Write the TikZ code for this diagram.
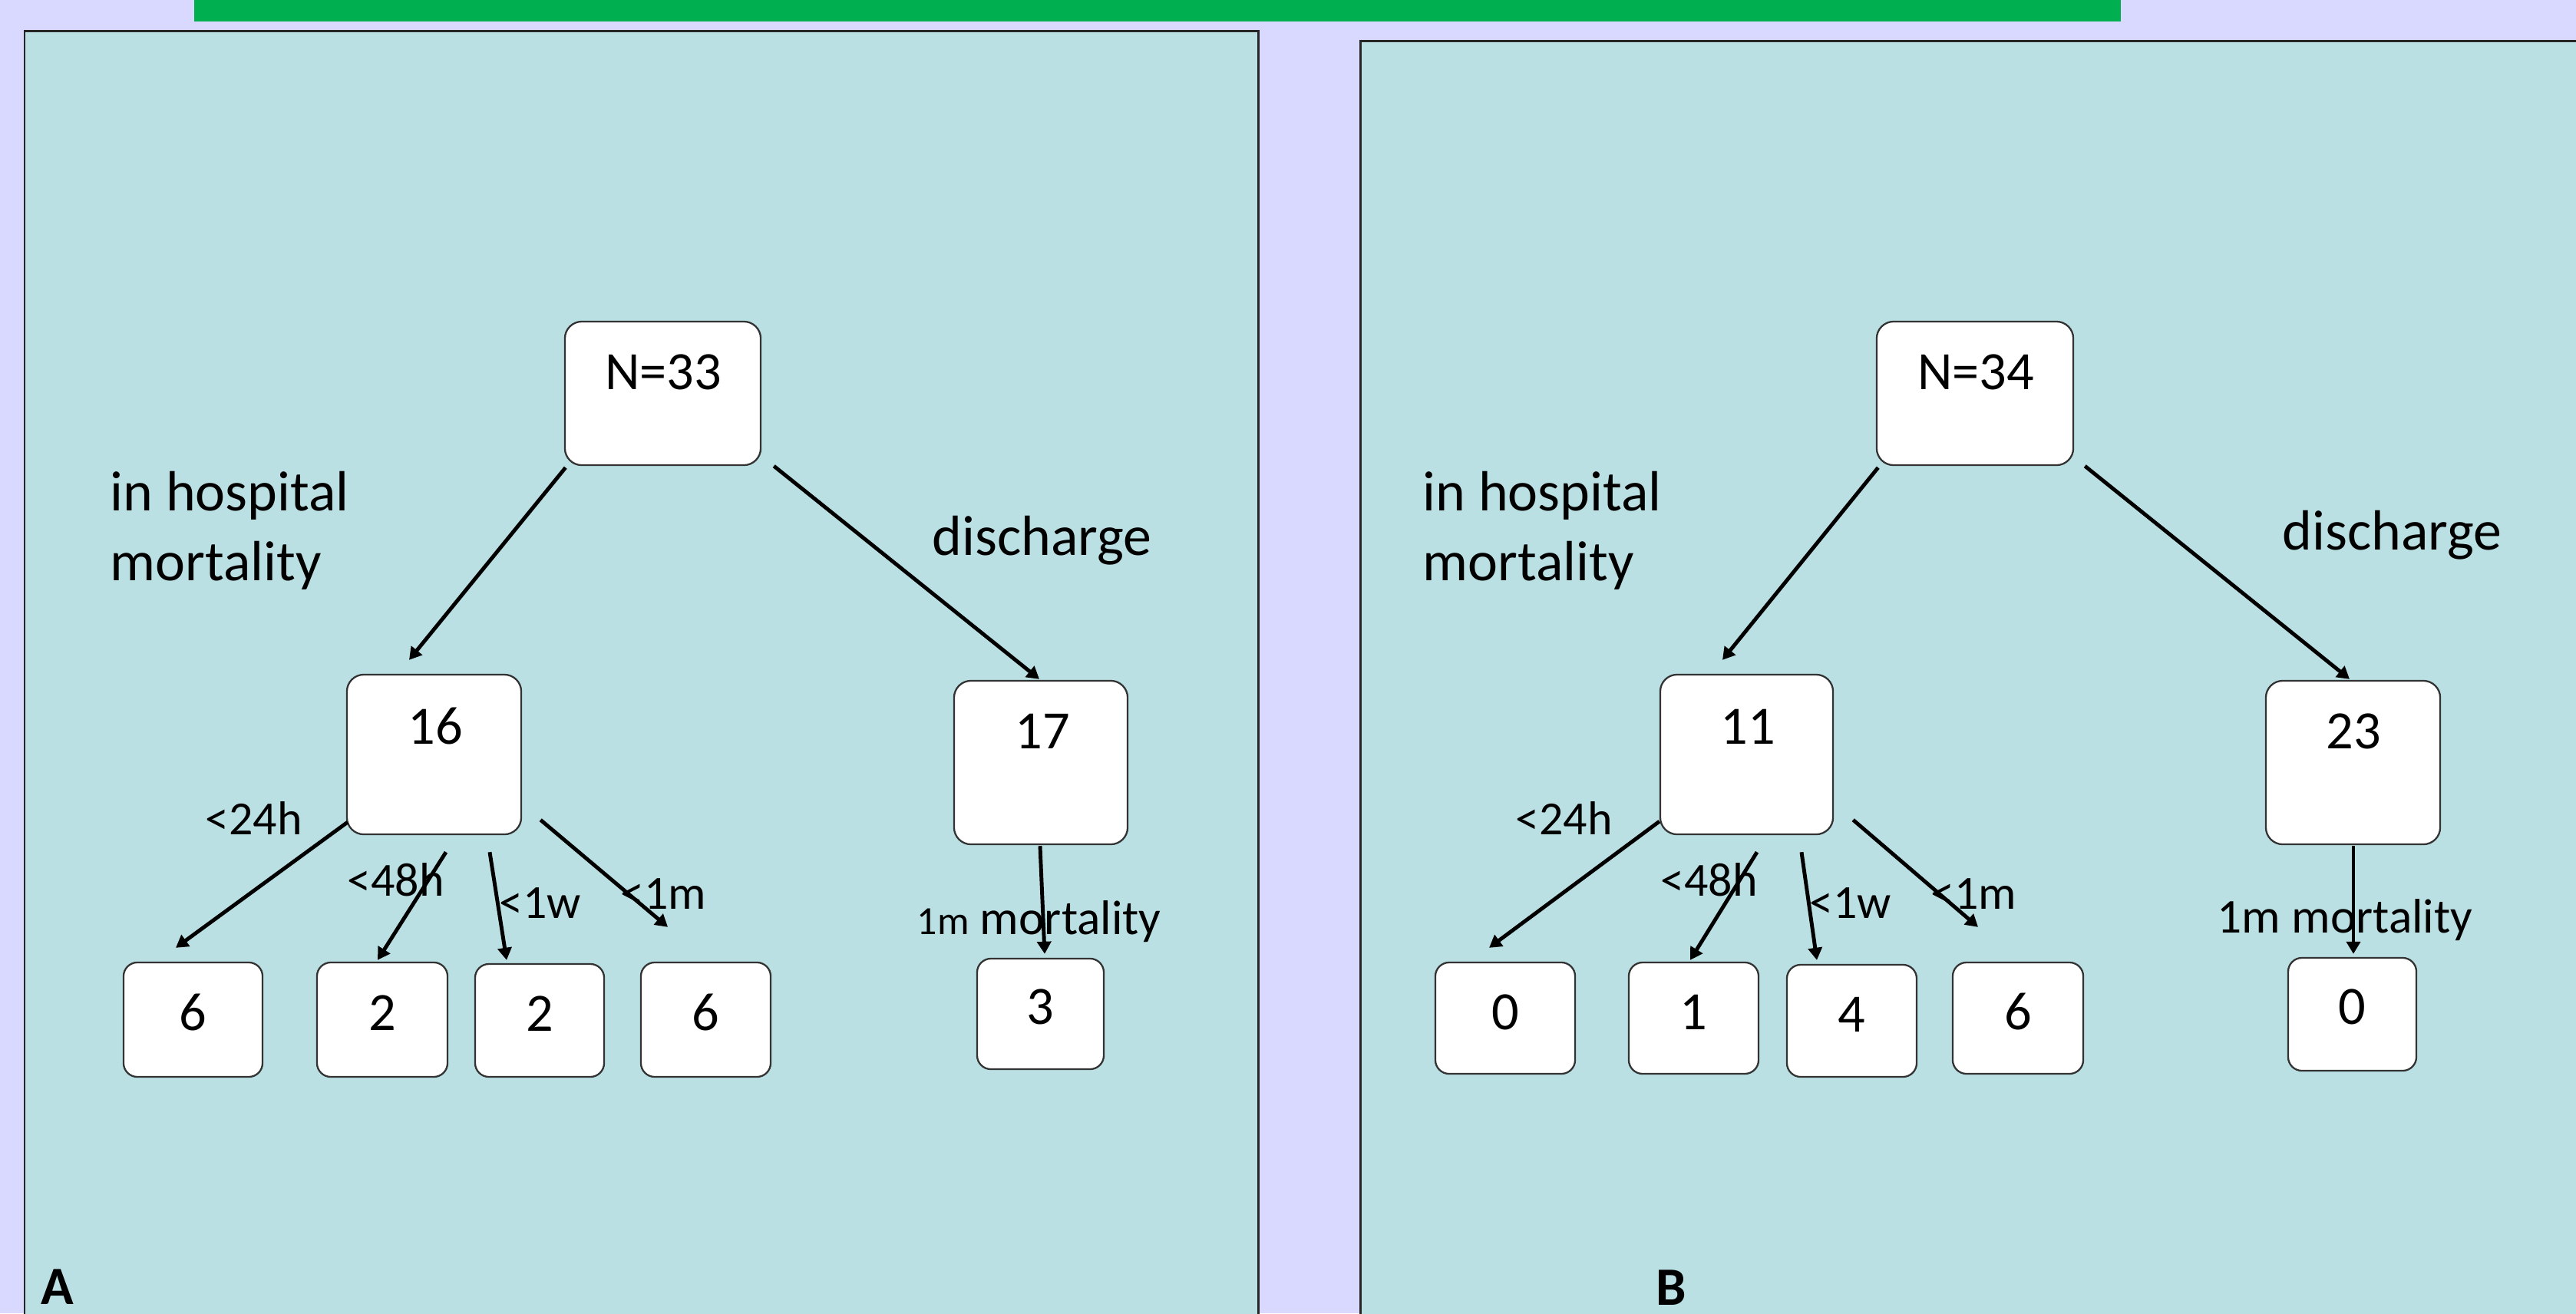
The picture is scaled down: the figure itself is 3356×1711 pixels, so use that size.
\documentclass[tikz,border=0pt]{standalone}
\usepackage{fontspec}
\setmainfont{Carlito}
\usetikzlibrary{arrows.meta,calc}
\definecolor{bgl}{HTML}{D9D9FF}
\definecolor{panelc}{HTML}{BBE0E3}
\definecolor{gbar}{HTML}{00AF50}
\begin{document}
\begin{tikzpicture}[x=0.01cm,y=-0.01cm,
  bigbox/.style={draw=black!80, line width=0.65pt, fill=white, rounded corners=0.22cm, inner sep=0pt},
  smallbox/.style={bigbox, rounded corners=0.18cm},
  numtxt/.style={anchor=base, inner sep=0pt, font=\fontsize{20}{24}\selectfont},
  lbl/.style={anchor=base west, inner sep=0pt, font=\fontsize{21}{25}\selectfont},
  elbl/.style={anchor=base west, inner sep=0pt, font=\fontsize{17.6}{21}\selectfont},
  mlbl/.style={anchor=base west, inner sep=0pt, font=\fontsize{18}{22}\selectfont},
  plbl/.style={anchor=base west, inner sep=0pt, font=\fontsize{20}{24}\selectfont\bfseries},
  arr/.style={line width=1.4pt, -{Triangle[length=0.16cm,width=0.18cm]}},
  panelbox/.style={fill=panelc, draw=black!85, line width=0.85pt}]
\useasboundingbox (0,0) rectangle (3356,1711);
\clip (0,0) rectangle (3356,1711);
\fill[bgl] (0,0) rectangle (3356,1711);
\fill[gbar] (253,0) rectangle (2763,28);
% panels
\draw[panelbox] (32,40) rectangle (1639,1760);
\draw[panelbox] (1772,53) rectangle (3400,1760);

% ---------- Panel A ----------
\node[bigbox, minimum width=2.55cm, minimum height=1.87cm] (nA) at (863.5,512.5) {};
\node[bigbox, minimum width=2.27cm, minimum height=2.08cm] (mA) at (565.5,983) {};
\node[bigbox, minimum width=2.26cm, minimum height=2.13cm] (dA) at (1356,993.5) {};
\node[smallbox, minimum width=1.81cm, minimum height=1.49cm] (a1) at (251.5,1328.5) {};
\node[smallbox, minimum width=1.70cm, minimum height=1.49cm] (a2) at (498,1328.5) {};
\node[smallbox, minimum width=1.68cm, minimum height=1.47cm] (a3) at (703,1329.5) {};
\node[smallbox, minimum width=1.69cm, minimum height=1.49cm] (a4) at (919.5,1328.5) {};
\node[smallbox, minimum width=1.65cm, minimum height=1.44cm] (a5) at (1355.5,1321) {};

\node[numtxt] (tnA) at (864,507) {N=33};
\node[numtxt] (tmA) at (567,969) {16};
\node[numtxt] (tdA) at (1358,975) {17};
\node[numtxt] (ta1) at (251.5,1342) {6};
\node[numtxt] (ta2) at (498,1342) {2};
\node[numtxt] (ta3) at (703,1343) {2};
\node[numtxt] (ta4) at (919.5,1342) {6};
\node[numtxt] (ta5) at (1355.5,1334) {3};

\node[lbl] (hA1) at (143,665) {in hospital};
\node[lbl] (hA2) at (143,756) {mortality};
\node[lbl] (dcA) at (1214,723) {discharge};
\node[elbl] (e1A) at (267,1087) {<24h};
\node[elbl] (e2A) at (452,1167) {<48h};
\node[elbl] (e3A) at (650,1196) {<1w};
\node[elbl] (e4A) at (808,1184) {<1m};
\node[mlbl] (e5A) at (1194,1217) {{\fontsize{14.8}{18}\selectfont 1m} mortality};
\node[plbl] (pA) at (53,1699) {A};

\draw[arr] ($(nA.south west)+(2,2)$) -- ($(mA.north)+(-32.5,-18)$);
\draw[arr] ($(nA.south east)+(16,0)$) -- ($(dA.north)+(-2,-1)$);
\draw[arr] ($(mA.south west)+(2,-17)$) -- ($(a1.north)+(-22.5,-18)$);
\draw[arr] ($(mA.south)+(15.5,22)$) -- ($(a2.north)+(-6,-2)$);
\draw[arr] ($(mA.south)+(72.5,22)$) -- ($(a3.north)+(-43,-4)$);
\draw[arr] ($(mA.south east)+(24,-20)$) -- ($(a4.north)+(-49.5,-45)$);
\draw[arr] ($(dA.south)+(-1,1)$) -- ($(a5.north)+(5.5,-5)$);

% ---------- Panel B ----------
\node[bigbox, minimum width=2.56cm, minimum height=1.87cm] (nB) at (2573,512.5) {};
\node[bigbox, minimum width=2.25cm, minimum height=2.08cm] (mB) at (2275.5,983) {};
\node[bigbox, minimum width=2.27cm, minimum height=2.13cm] (dB) at (3065.5,993.5) {};
\node[smallbox, minimum width=1.82cm, minimum height=1.45cm] (b1) at (1961,1326.5) {};
\node[smallbox, minimum width=1.69cm, minimum height=1.45cm] (b2) at (2206.5,1326.5) {};
\node[smallbox, minimum width=1.69cm, minimum height=1.46cm] (b3) at (2412.5,1330) {};
\node[smallbox, minimum width=1.70cm, minimum height=1.45cm] (b4) at (2629,1326.5) {};
\node[smallbox, minimum width=1.67cm, minimum height=1.47cm] (b5) at (3064.5,1321.5) {};

\node[numtxt] (tnB) at (2574,507) {N=34};
\node[numtxt] (tmB) at (2277,969) {11};
\node[numtxt] (tdB) at (3066,975) {23};
\node[numtxt] (tb1) at (1961,1341) {0};
\node[numtxt] (tb2) at (2206.5,1341) {1};
\node[numtxt] (tb3) at (2412.5,1344) {4};
\node[numtxt] (tb4) at (2629,1341) {6};
\node[numtxt] (tb5) at (3064.5,1334) {0};

\node[lbl] (hB1) at (1853,665) {in hospital};
\node[lbl] (hB2) at (1853,756) {mortality};
\node[lbl] (dcB) at (2973,716) {discharge};
\node[elbl] (e1B) at (1974,1087) {<24h};
\node[elbl] (e2B) at (2163,1167) {<48h};
\node[elbl] (e3B) at (2357,1196) {<1w};
\node[elbl] (e4B) at (2515,1184) {<1m};
\node[mlbl] (e5B) at (2888,1215) {1m mortality};
\node[plbl] (pB) at (2157,1700) {B};

\draw[arr] ($(nB.south west)+(3,2)$) -- ($(mB.north)+(-31.5,-18)$);
\draw[arr] ($(nB.south east)+(14,0)$) -- ($(dB.north)+(-4.5,-1)$);
\draw[arr] ($(mB.south west)+(0,-18)$) -- ($(b1.north)+(-21,-18)$);
\draw[arr] ($(mB.south)+(13.5,22)$) -- ($(b2.north)+(-4.5,-2)$);
\draw[arr] ($(mB.south)+(71.5,22)$) -- ($(b3.north)+(-45.5,-5)$);
\draw[arr] ($(mB.south east)+(25,-20)$) -- ($(b4.north)+(-52,-45)$);
\draw[arr] ($(dB.south)+(0.5,1)$) -- ($(b5.north)+(1.5,-4)$);
\end{tikzpicture}
\end{document}
